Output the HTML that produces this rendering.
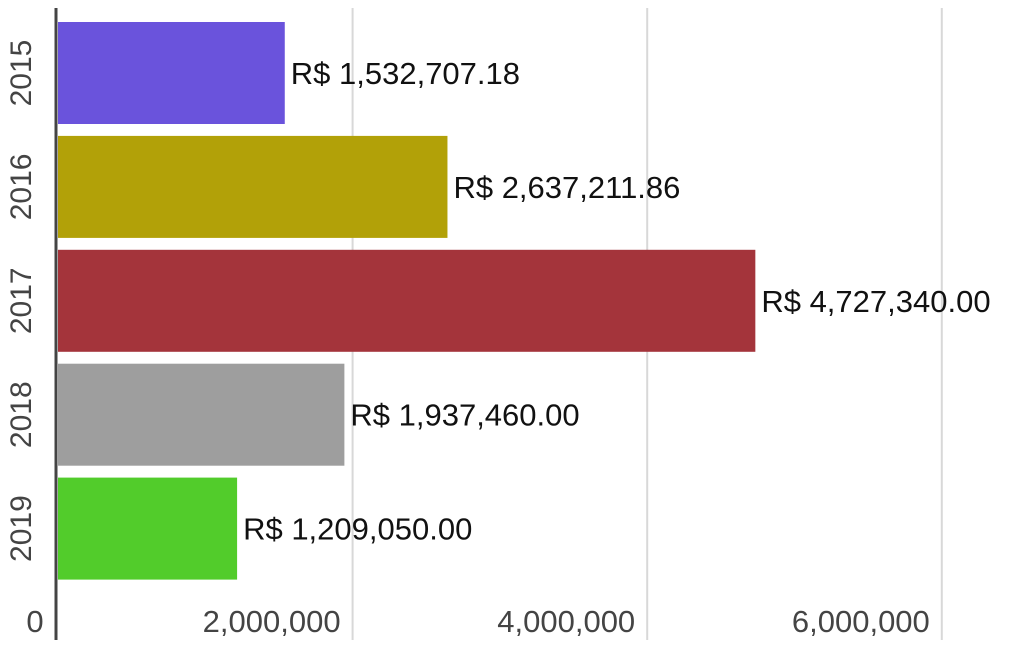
<!DOCTYPE html>
<html><head><meta charset="utf-8"><style>
html,body{margin:0;padding:0;background:#fff;}
svg{display:block;font-family:"Liberation Sans",Arial,sans-serif;}
</style></head><body>
<svg id="chart" width="1026" height="664"></svg>
<script>
const categories=["2015","2016","2017","2018","2019"];
const values=[1532707.18,2637211.86,4727340.00,1937460.00,1209050.00];
const valueLabels=["R$ 1,532,707.18","R$ 2,637,211.86","R$ 4,727,340.00","R$ 1,937,460.00","R$ 1,209,050.00"];
const colors=["#6a53dc","#b2a108","#a4343b","#9e9e9e","#52cc2b"];
const ticks=[0,2000000,4000000,6000000];
const tickLabels=["0","2,000,000","4,000,000","6,000,000"];

const NS="http://www.w3.org/2000/svg";
const svgEl=document.getElementById('chart');
const x0=59, pxPerUnit=294.6/2000000;
const xs=v=>x0+v*pxPerUnit;
const firstBar=22, band=113.9, barH=102;
const ys=i=>firstBar+i*band;
function mk(t,a){const e=document.createElementNS(NS,t);for(const k in a)e.setAttribute(k,a[k]);svgEl.appendChild(e);return e;}

ticks.forEach((t,i)=>{
  if(i>0){
    const g=mk('line',{x1:xs(t)-1,x2:xs(t)-1,y1:8,y2:640,stroke:'#d8d8d8','stroke-width':2});
    
    
  }
  const tl=mk('text',{x:i===0?35:xs(t)-13,y:632,'text-anchor':i===0?'middle':'end','font-size':31,fill:'#444'});
  tl.textContent=tickLabels[i];
  
  
});

categories.forEach((c,i)=>{
  const by=ys(i);
  const r=mk('rect',{x:x0-1,y:by,width:xs(values[i])-x0+1,height:barH,fill:colors[i]});
  
  
  const vl=mk('text',{x:xs(values[i])+6,y:by+barH/2+11,'font-size':31,fill:'#111'});
  vl.textContent=valueLabels[i];
  
  
  const cy=by+barH/2;
  const yl=mk('text',{x:0,y:0,transform:`translate(31,${cy}) rotate(-90)`,'text-anchor':'middle','font-size':30,fill:'#444'});
  yl.textContent=c;
  
  
});

const ax=mk('line',{x1:56,x2:56,y1:8,y2:640,stroke:'#444','stroke-width':3});


</script>
</body></html>
